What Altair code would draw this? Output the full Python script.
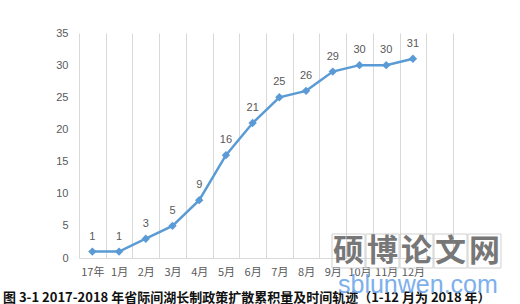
import altair as alt
import pandas as pd

categories = ["17年", "1月", "2月", "3月", "4月", "5月", "6月", "7月", "8月", "9月", "10月", "11月", "12月"]
values = [1, 1, 3, 5, 9, 16, 21, 25, 26, 29, 30, 30, 31]
extra_band = " "
y_ticks = [0, 5, 10, 15, 20, 25, 30, 35]
caption = "图 3-1 2017-2018 年省际间湖长制政策扩散累积量及时间轨迹（1-12 月为 2018 年）"
wm_chars = ["硕", "博", "论", "文", "网"]
wm_site = "sblunwen.com"

df = pd.DataFrame({"cat": categories, "v": values})
domain = categories + [extra_band]

x = alt.X("cat:N", sort=domain,
          scale=alt.Scale(domain=domain, paddingInner=0, paddingOuter=0),
          axis=alt.Axis(title=None, labelAngle=0, grid=True, tickBand="extent",
                        gridColor="#d9d9d9", gridWidth=1, domainColor="#d9d9d9",
                        ticks=False, labelColor="#595959", labelFontSize=11,
                        labelFont="Noto Sans CJK SC", labelPadding=8))
y = alt.Y("v:Q", scale=alt.Scale(domain=[0, 35], nice=False),
          axis=alt.Axis(title=None, values=y_ticks, grid=False, domain=False, ticks=False,
                        labelColor="#595959", labelFontSize=11, labelPadding=11,
                        labelFont="Liberation Sans"))

base = alt.Chart(df)
line = base.mark_line(color="#5B9BD5", strokeWidth=2.5).encode(x=x, y=y)
pts = base.mark_point(shape="diamond", filled=True, size=70, color="#5B9BD5", opacity=1).encode(x=x, y=y)
labels = base.mark_text(dy=-15, fontSize=11, color="#595959", font="Liberation Sans").encode(
    x=x, y=y, text="v:Q")

one = pd.DataFrame({"k": [0]})
cap = alt.Chart(one).mark_text(
    align="left", baseline="middle", fontSize=13, color="#111111",
    font="Noto Sans CJK SC", fontWeight="bold", text=caption).encode(
    x=alt.value(-76), y=alt.value(264.5))

layers = [line, pts, labels, cap]
box_left = [253, 287, 321, 355, 389]
for i, ch in enumerate(wm_chars):
    bx = box_left[i]
    layers.append(alt.Chart(one).mark_rect(fill=None, stroke="#d0d0d0", strokeWidth=1).encode(
        x=alt.value(bx), x2=alt.value(bx + 33), y=alt.value(201), y2=alt.value(235)))
    layers.append(alt.Chart(one).mark_text(fontSize=31, color="#777777", fontWeight="bold",
                                           font="Noto Sans CJK SC", baseline="middle", text=ch).encode(
        x=alt.value(bx + 16.5), y=alt.value(219)))
layers.append(alt.Chart(one).mark_text(
    fontSize=25, color="#6fa8ea", font="Liberation Sans", baseline="middle", align="left",
    opacity=0.9, text=wm_site).encode(x=alt.value(259), y=alt.value(252)))

chart = alt.layer(*layers).properties(
    width=374, height=225,
    padding={"left": 79, "top": 33, "right": 67, "bottom": 46},
    autosize=alt.AutoSizeParams(type="none"),
    background="white"
).configure_view(stroke=None)

chart.save("out.html", embed_options={"renderer": "svg", "actions": False})
